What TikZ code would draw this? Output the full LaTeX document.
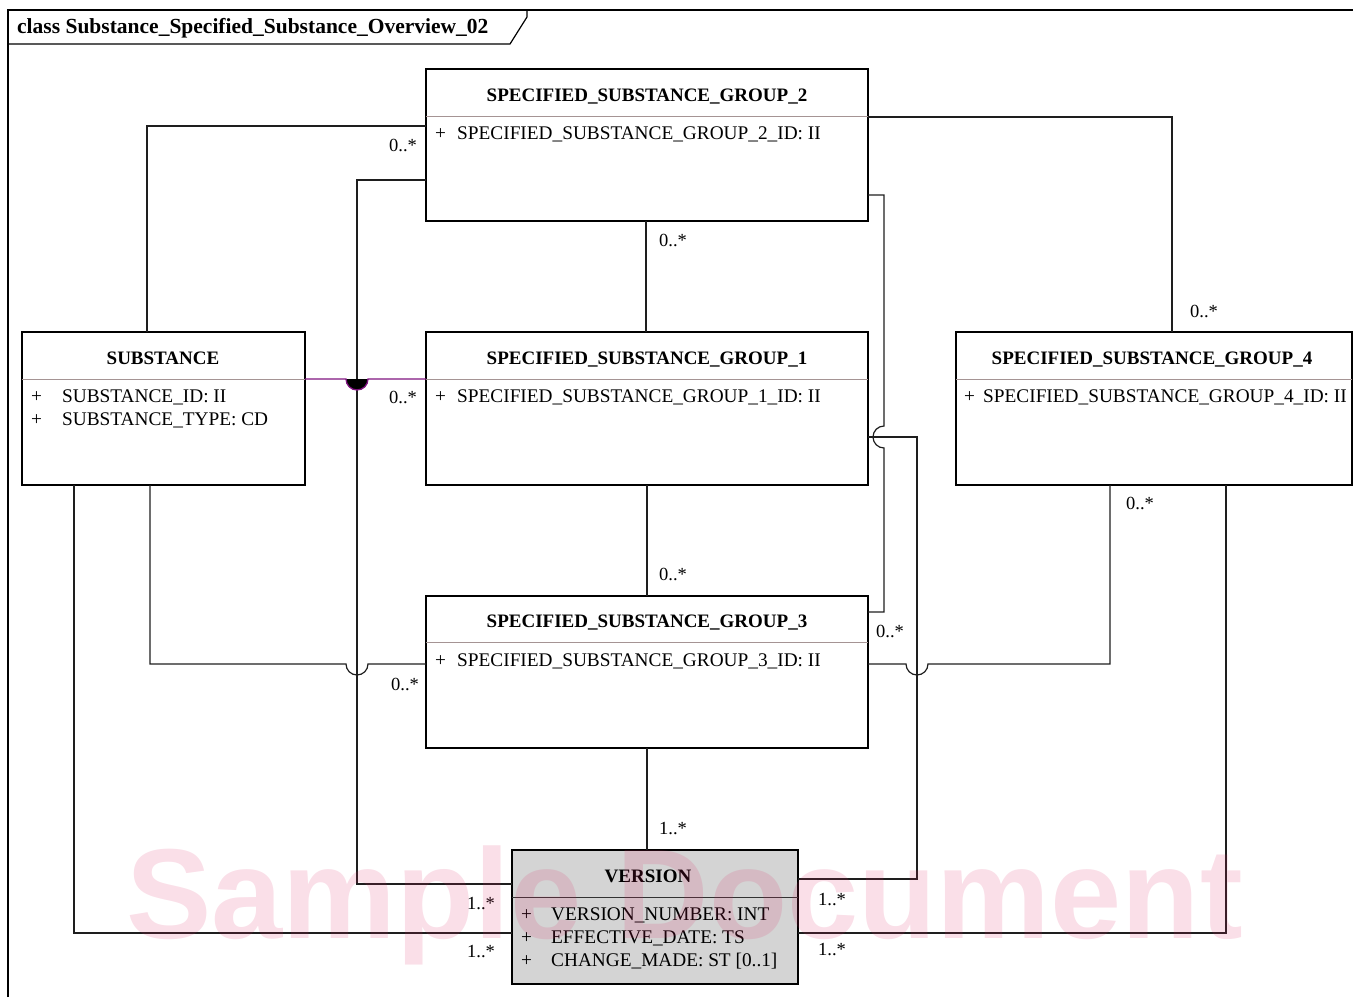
\documentclass[tikz,border=0pt]{standalone}
\usepackage{fontspec}
\setmainfont{Liberation Serif}
\setsansfont{Liberation Sans}
\definecolor{sepc}{RGB}{165,148,148}
\definecolor{conc}{RGB}{30,30,30}
\definecolor{assoc}{RGB}{128,20,128}
\definecolor{verfill}{RGB}{212,212,212}
\definecolor{wmc}{RGB}{220,40,100}
\begin{document}
\begin{tikzpicture}[x=1pt,y=-1pt,
 cls/.style={draw=black, line width=2.2pt, fill=white, anchor=north west, inner sep=0pt, outer sep=0pt},
 ttl/.style={font=\fontsize{19}{21}\selectfont\bfseries, anchor=base, inner sep=0pt},
 attr/.style={font=\fontsize{19.3}{21}\selectfont, anchor=base west, inner sep=0pt},
 sepl/.style={draw=sepc, line width=1pt},
 conn/.style={draw=conc, line width=1.2pt},
 mult/.style={font=\fontsize{18.5}{20}\selectfont, inner sep=0pt}
]
\useasboundingbox (0,0) rectangle (1353,997);
% frame
\draw[line width=1.5pt] (8,997) -- (8,10) -- (1353,10);
\draw[line width=1.2pt] (8,44) -- (510,44) -- (527,17) -- (527,10);
\node[ttl, anchor=base west, font=\fontsize{21.5}{23}\selectfont\bfseries] (frametitle) at (17,33) {class Substance\_Specified\_Substance\_Overview\_02};

% classes
\node[cls, minimum width=442pt, minimum height=152pt] (sg2) at (426,69) {};
\node[cls, minimum width=283pt, minimum height=153pt] (sub) at (22,332) {};
\node[cls, minimum width=442pt, minimum height=153pt] (sg1) at (426,332) {};
\node[cls, minimum width=396pt, minimum height=153pt] (sg4) at (956,332) {};
\node[cls, minimum width=442pt, minimum height=152pt] (sg3) at (426,596) {};
\node[cls, fill=verfill, minimum width=286pt, minimum height=134pt] (ver) at (512,850) {};

% SG2
\node[ttl] (sg2t) at (647,101) {SPECIFIED\_SUBSTANCE\_GROUP\_2};
\draw[sepl] (sg2.west |- 0,116) -- (sg2.east |- 0,116);
\node[attr] (sg2p) at (435,139) {+};
\node[attr] (sg2a) at (457,139) {SPECIFIED\_SUBSTANCE\_GROUP\_2\_ID: II};
% SUB
\node[ttl] (subt) at (163,364) {SUBSTANCE};
\draw[sepl] (sub.west |- 0,379) -- (sub.east |- 0,379);
\node[attr] (subp1) at (31,402) {+};
\node[attr] (suba1) at (62,402) {SUBSTANCE\_ID: II};
\node[attr] (subp2) at (31,425) {+};
\node[attr] (suba2) at (62,425) {SUBSTANCE\_TYPE: CD};
% SG1
\node[ttl] (sg1t) at (647,364) {SPECIFIED\_SUBSTANCE\_GROUP\_1};
\draw[sepl] (sg1.west |- 0,379) -- (sg1.east |- 0,379);
\node[attr] (sg1p) at (435,402) {+};
\node[attr] (sg1a) at (457,402) {SPECIFIED\_SUBSTANCE\_GROUP\_1\_ID: II};
% SG4
\node[ttl] (sg4t) at (1152,364) {SPECIFIED\_SUBSTANCE\_GROUP\_4};
\draw[sepl] (sg4.west |- 0,379) -- (sg4.east |- 0,379);
\node[attr] (sg4p) at (964,402) {+};
\node[attr] (sg4a) at (983,402) {SPECIFIED\_SUBSTANCE\_GROUP\_4\_ID: II};
% SG3
\node[ttl] (sg3t) at (647,627) {SPECIFIED\_SUBSTANCE\_GROUP\_3};
\draw[sepl] (sg3.west |- 0,642) -- (sg3.east |- 0,642);
\node[attr] (sg3p) at (435,666) {+};
\node[attr] (sg3a) at (457,666) {SPECIFIED\_SUBSTANCE\_GROUP\_3\_ID: II};
% VERSION
\node[ttl] (vert) at (648,882) {VERSION};
\draw[sepl, draw=black!80] (ver.west |- 0,897) -- (ver.east |- 0,897);
\node[attr] (verp1) at (521,920) {+};
\node[attr] (vera1) at (551,920) {VERSION\_NUMBER: INT};
\node[attr] (verp2) at (521,943) {+};
\node[attr] (vera2) at (551,943) {EFFECTIVE\_DATE: TS};
\node[attr] (verp3) at (521,966) {+};
\node[attr] (vera3) at (551,966) {CHANGE\_MADE: ST [0..1]};

% connectors
\draw[conn] (147,0 |- sub.north) -- (147,126) -- (sg2.west |- 0,126);
\draw[conn] (sg2.west |- 0,180) -- (357,180) -- (357,884) -- (ver.west |- 0,884);
\draw[conn] (646,0 |- sg2.south) -- (646,0 |- sg1.north);
\draw[conn] (sg2.east |- 0,117) -- (1172,117) -- (1172,0 |- sg4.north);
\draw[conn] (sg2.east |- 0,195) -- (884,195) -- (884,426) arc(270:90:11) -- (884,612) -- (sg3.east |- 0,612);
\draw[conn] (sg1.east |- 0,437) -- (917,437) -- (917,879) -- (ver.east |- 0,879);
\fill[black] (346,379) arc(180:0:11) -- cycle;
\draw[draw=assoc, line width=1.3pt] (sub.east |- 0,379) -- (346,379) arc(180:0:11) -- (sg1.west |- 0,379);
\draw[conn] (150,0 |- sub.south) -- (150,664) -- (346,664) arc(180:0:11) -- (sg3.west |- 0,664);
\draw[conn] (647,0 |- sg1.south) -- (647,0 |- sg3.north);
\draw[conn] (sg3.east |- 0,664) -- (906,664) arc(180:0:11) -- (1110,664) -- (1110,0 |- sg4.south);
\draw[conn] (647,0 |- sg3.south) -- (647,0 |- ver.north);
\draw[conn] (1226,0 |- sg4.south) -- (1226,933) -- (ver.east |- 0,933);
\draw[conn] (74,0 |- sub.south) -- (74,933) -- (ver.west |- 0,933);

% multiplicities
\node[mult] (m1) at (403,145) {0..*};
\node[mult] (m2) at (673,240) {0..*};
\node[mult] (m3) at (1204,311) {0..*};
\node[mult] (m4) at (403,397) {0..*};
\node[mult] (m5) at (673,574) {0..*};
\node[mult] (m6) at (890,631) {0..*};
\node[mult] (m7) at (405,684) {0..*};
\node[mult] (m8) at (1140,503) {0..*};
\node[mult] (m9) at (673,829) {1..*};
\node[mult] (m10) at (481,904) {1..*};
\node[mult] (m11) at (481,952) {1..*};
\node[mult] (m12) at (832,900) {1..*};
\node[mult] (m13) at (832,950) {1..*};

% watermark
\node[font=\sffamily\bfseries\fontsize{128}{128}\selectfont, text=wmc, text opacity=0.15, anchor=base west, inner sep=0pt] (wm) at (126,938) {Sample Document};
\end{tikzpicture}
\end{document}
